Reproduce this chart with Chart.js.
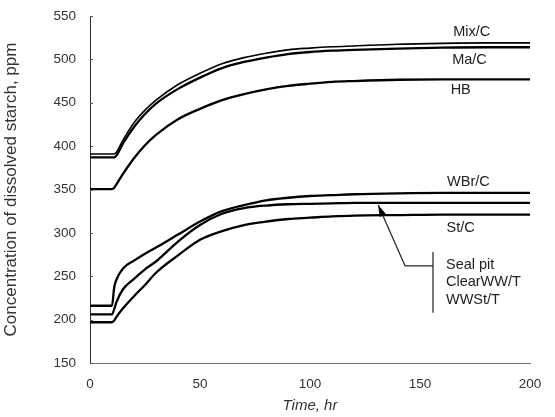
<!DOCTYPE html>
<html>
<head>
<meta charset="utf-8">
<script src="https://cdn.jsdelivr.net/npm/chart.js@4.4.1/dist/chart.umd.min.js"></script>
<style>
    html, body { margin: 0; padding: 0; background: #fff; }
    #wrap { width: 555px; height: 417px; }
</style>
</head>
<body>
<div id="wrap"><canvas id="myChart" width="555" height="417"></canvas></div>
<script>
// time axis (hr), shared by every series
const hours = [0, 10, 11, 12, 15, 20, 25, 30, 40, 50, 60, 70, 80, 90, 100, 110, 120, 140, 160, 180, 200];

// dissolved starch, ppm
const mixC    = [391, 391, 391, 393, 407, 427, 441.5, 453, 471, 484, 495, 502, 507, 511, 513, 514.5, 515.5, 517.5, 518.5, 519, 519];
const maC     = [387, 387, 387, 389, 403, 422, 437, 449, 466, 479, 490, 497, 502, 506, 508.5, 510, 511, 512.5, 513.5, 514, 514];
const hb      = [350.5, 350.5, 352, 356, 368, 386, 401, 413, 431, 443, 453, 460, 465.5, 469.5, 472, 474, 475, 476.5, 477, 477, 477];
const wbrC    = [216, 216, 237, 246, 259, 268, 276, 283, 298, 313, 325, 332, 337.5, 340.5, 342.5, 343.5, 344.5, 345.5, 346, 346, 346];
const sealPit = [206, 206, 212, 220, 235, 247, 258, 267, 290, 309, 322, 328.5, 331.5, 333, 333.5, 334, 334.5, 334.5, 334.5, 334.5, 334.5];
const stC     = [197, 197, 199, 203, 213, 227, 240, 254, 274, 292, 302, 309, 313, 316, 317.5, 319, 320, 320.5, 321, 321, 321];

const seriesNames = ["Mix/C", "Ma/C", "HB", "WBr/C", "Seal pit / ClearWW/T / WWSt/T", "St/C"];
const seriesValues = [mixC, maC, hb, wbrC, sealPit, stC];

const xTicks = [0, 50, 100, 150, 200];
const yTicks = [150, 200, 250, 300, 350, 400, 450, 500, 550];

// in-plot labels, placed in data units
const curveLabels = [
    {text: "Mix/C", t: 173.5, v: 531},
    {text: "Ma/C",  t: 172.5, v: 499},
    {text: "HB",    t: 168.5, v: 465},
    {text: "WBr/C", t: 172,   v: 359},
    {text: "St/C",  t: 168.5, v: 306}
];
const groupLabels = ["Seal pit", "ClearWW/T", "WWSt/T"];

document.addEventListener("DOMContentLoaded", function(){
    loadGraphic();
});

function makePoints(values){
    return hours.map((h, i) => ({x: h, y: values[i]}));
}

const labelPlugin = {
    id: "curveLabels",
    afterDatasetsDraw(chart){
        const c = chart.ctx;
        const xs = chart.scales.x;
        const ys = chart.scales.y;
        c.save();
        c.fillStyle = "#222";
        c.font = "14.5px 'Liberation Sans', Arial, sans-serif";
        c.textAlign = "center";
        c.textBaseline = "middle";
        curveLabels.forEach(l => {
            c.fillText(l.text, xs.getPixelForValue(l.t), ys.getPixelForValue(l.v));
        });

        // bracket + arrow for the three overlapping units
        c.textAlign = "left";
        groupLabels.forEach((txt, i) => {
            c.fillText(txt, xs.getPixelForValue(161.8), ys.getPixelForValue(263 - i * 20));
        });
        c.strokeStyle = "#222";
        c.lineWidth = 1.2;
        c.beginPath();
        c.moveTo(xs.getPixelForValue(155.9), ys.getPixelForValue(278));
        c.lineTo(xs.getPixelForValue(155.9), ys.getPixelForValue(208));
        c.stroke();
        const ex = xs.getPixelForValue(143.2), ey = ys.getPixelForValue(262);
        const tx = xs.getPixelForValue(131), ty = ys.getPixelForValue(332);
        c.beginPath();
        c.moveTo(xs.getPixelForValue(155.9), ey);
        c.lineTo(ex, ey);
        c.lineTo(tx, ty);
        c.stroke();
        const ang = Math.atan2(ty - ey, tx - ex);
        c.fillStyle = "#000";
        c.beginPath();
        c.moveTo(tx, ty);
        c.lineTo(tx - 12 * Math.cos(ang - 0.3), ty - 12 * Math.sin(ang - 0.3));
        c.lineTo(tx - 12 * Math.cos(ang + 0.3), ty - 12 * Math.sin(ang + 0.3));
        c.closePath();
        c.fill();

        // small inward ticks on the y axis
        c.strokeStyle = "#555";
        c.lineWidth = 1;
        yTicks.forEach(v => {
            const py = Math.round(ys.getPixelForValue(v)) + 0.5;
            c.beginPath();
            c.moveTo(xs.left, py);
            c.lineTo(xs.left + 3, py);
            c.stroke();
        });
        c.restore();
    }
};

function loadGraphic(){
    const ctx = document.getElementById('myChart').getContext('2d');
    const datasets = seriesValues.map((vals, i) => ({
        label: seriesNames[i],
        data: makePoints(vals),
        borderColor: "#000",
        borderWidth: i === 0 ? 1.6 : 2.3,
        pointRadius: 0,
        fill: false,
        cubicInterpolationMode: "monotone"
    }));

    myChart = new Chart(ctx, {
        type: 'line',
        data: { datasets: datasets },
        options: {
            responsive: false,
            animation: false,
            events: [],
            layout: { padding: { top: 16, right: 25, bottom: 0, left: 0 } },
            plugins: {
                legend: { display: false },
                tooltip: { enabled: false }
            },
            scales: {
                x: {
                    type: 'linear',
                    min: 0,
                    max: 200,
                    afterBuildTicks: s => { s.ticks = xTicks.map(v => ({value: v})); },
                    afterFit: s => { s.height = 54; s.paddingLeft = 0; s.paddingRight = 0; },
                    grid: { display: false, drawTicks: false },
                    border: { display: true, color: "#777", width: 1, dash: [7, 9] },
                    ticks: { color: "#333", padding: 13, font: { family: "'Liberation Sans', Arial", size: 13.5 } },
                    title: {
                        display: true,
                        text: "Time, hr",
                        color: "#333",
                        padding: { top: 0, bottom: 2 },
                        font: { family: "'Liberation Sans', Arial", size: 15, style: "italic" }
                    }
                },
                y: {
                    min: 150,
                    max: 550,
                    afterBuildTicks: s => { s.ticks = yTicks.map(v => ({value: v})); },
                    afterFit: s => { s.width = 90; s.paddingTop = 0; s.paddingBottom = 0; },
                    grid: { display: false, drawTicks: false },
                    border: { display: true, color: "#333", width: 1 },
                    ticks: { color: "#333", padding: 14, font: { family: "'Liberation Sans', Arial", size: 13.5 } },
                    title: {
                        display: true,
                        text: "Concentration of dissolved starch, ppm",
                        color: "#333",
                        padding: { top: 1, bottom: 0 },
                        font: { family: "'Liberation Sans', Arial", size: 17 }
                    }
                }
            }
        },
        plugins: [labelPlugin]
    });
}
</script>
</body>
</html>
